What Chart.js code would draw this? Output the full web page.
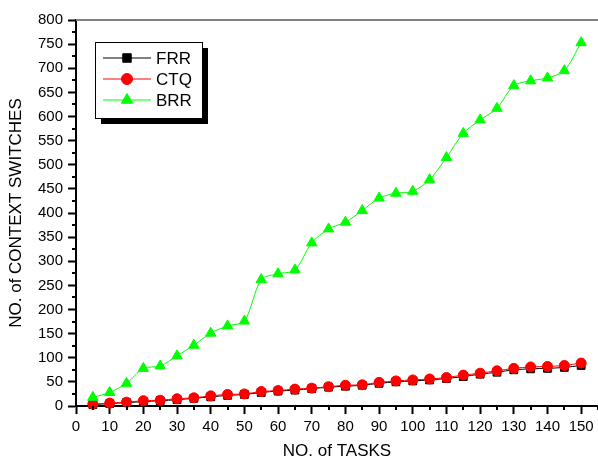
<!DOCTYPE html>
<html>
<head>
<meta charset="utf-8">
<script src="https://cdn.jsdelivr.net/npm/chart.js@4/dist/chart.umd.min.js"></script>
<style>
  html, body { margin: 0; padding: 0; background: #fff; }
  #wrap { width: 598px; height: 463px; }
</style>
</head>
<body>
<div id="wrap"><canvas id="ctxChart" width="598" height="463"></canvas></div>
<script>
// Données
const tasks = [5, 10, 15, 20, 25, 30, 35, 40, 45, 50, 55, 60, 65, 70, 75,
               80, 85, 90, 95, 100, 105, 110, 115, 120, 125, 130, 135, 140, 145, 150];
const frrValues = [3, 5, 7, 9, 11, 13, 16, 19, 22, 24, 28, 31, 33, 36, 39,
                   41, 43, 47, 50, 52, 54, 57, 61, 66, 70, 75, 77, 78, 80, 84];
const ctqValues = [4, 6, 8, 11, 12, 15, 17, 21, 24, 25, 30, 32, 35, 37, 40,
                   43, 44, 49, 52, 54, 56, 59, 64, 68, 73, 78, 81, 82, 84, 89];
const brrValues = [18, 28, 47, 78, 83, 104, 126, 151, 166, 176, 262, 274, 282, 338, 367,
                   381, 405, 431, 441, 445, 469, 515, 565, 593, 617, 664, 674, 680, 695, 753];
const seriesNames = ['FRR', 'CTQ', 'BRR'];

const fontFamily = "'Liberation Sans', Arial, sans-serif";

function toPoints(values) {
    return values.map((v, i) => ({ x: tasks[i], y: v }));
}

// Petits traits (graduations mineures) + bordure du haut
const axesExtras = {
    id: 'axesExtras',
    afterDraw(chart) {
        const ctx = chart.ctx;
        const area = chart.chartArea;
        const xs = chart.scales.x;
        const ys = chart.scales.y;
        ctx.save();
        ctx.strokeStyle = '#000';
        ctx.lineWidth = 2;
        xs.ticks.forEach(t => {
            if (t.value % 10 !== 0) {
                const px = Math.round(xs.getPixelForValue(t.value));
                ctx.beginPath();
                ctx.moveTo(px, area.bottom);
                ctx.lineTo(px, area.bottom + 4);
                ctx.stroke();
            }
        });
        ys.ticks.forEach(t => {
            if (t.value % 50 !== 0) {
                const py = Math.round(ys.getPixelForValue(t.value));
                ctx.beginPath();
                ctx.moveTo(area.left - 4, py);
                ctx.lineTo(area.left, py);
                ctx.stroke();
            }
        });
        // bordure grise en haut
        ctx.strokeStyle = '#808080';
        ctx.lineWidth = 2;
        ctx.beginPath();
        ctx.moveTo(area.left, area.top);
        ctx.lineTo(area.right, area.top);
        ctx.stroke();
        ctx.restore();
    }
};

// Légende encadrée avec ombre
const boxLegend = {
    id: 'boxLegend',
    afterDraw(chart) {
        const ctx = chart.ctx;
        const bx = 95, by = 42, bw = 107, bh = 76;
        ctx.save();
        ctx.fillStyle = '#000';
        ctx.fillRect(bx + 6, by + 6, bw, bh);
        ctx.fillStyle = '#fff';
        ctx.fillRect(bx, by, bw, bh);
        ctx.strokeStyle = '#000';
        ctx.lineWidth = 1;
        ctx.strokeRect(bx + 0.5, by + 0.5, bw, bh);
        const rows = [58, 79, 100];
        seriesNames.forEach((name, i) => {
            const ds = chart.data.datasets.find(d => d.label === name);
            const y = rows[i];
            ctx.strokeStyle = ds.borderColor;
            ctx.lineWidth = 1;
            ctx.beginPath();
            ctx.moveTo(103, y);
            ctx.lineTo(151, y);
            ctx.stroke();
            ctx.fillStyle = ds.pointBackgroundColor;
            ctx.strokeStyle = ds.pointBorderColor;
            Chart.helpers.drawPoint(ctx, {
                pointStyle: ds.pointStyle,
                radius: ds.pointRadius + 0.5,
                borderWidth: 1,
                rotation: 0
            }, 127, y);
            ctx.fillStyle = '#000';
            ctx.font = '17px ' + fontFamily;
            ctx.textBaseline = 'middle';
            ctx.textAlign = 'left';
            ctx.fillText(name, 156, y + 1);
        });
        ctx.restore();
    }
};

new Chart(document.getElementById('ctxChart'), {
    type: 'line',
    data: {
        datasets: [
            {
                label: 'FRR',
                data: toPoints(frrValues),
                borderColor: '#000000',
                backgroundColor: '#000000',
                pointBackgroundColor: '#000000',
                pointBorderColor: '#000000',
                pointStyle: 'rect',
                pointRadius: 5.5,
                borderWidth: 1,
                tension: 0.3,
                order: 3
            },
            {
                label: 'CTQ',
                data: toPoints(ctqValues),
                borderColor: '#ff0000',
                backgroundColor: '#ff0000',
                pointBackgroundColor: '#ff0000',
                pointBorderColor: '#ff0000',
                pointStyle: 'circle',
                pointRadius: 5,
                borderWidth: 1,
                tension: 0.3,
                order: 2
            },
            {
                label: 'BRR',
                data: toPoints(brrValues),
                borderColor: '#00ff00',
                backgroundColor: '#00ff00',
                pointBackgroundColor: '#00ff00',
                pointBorderColor: '#00ff00',
                pointStyle: 'triangle',
                pointRadius: 6,
                borderWidth: 1,
                tension: 0.3,
                order: 1
            }
        ]
    },
    options: {
        responsive: false,
        animation: false,
        clip: false,
        layout: {
            autoPadding: false,
            padding: { top: 20, right: 0, left: 0, bottom: 0 }
        },
        plugins: {
            legend: { display: false },
            tooltip: { enabled: false }
        },
        scales: {
            x: {
                type: 'linear',
                min: 0,
                max: 155,
                afterFit(scale) {
                    scale.height = 57;
                    scale.paddingRight = 0;
                    scale.paddingLeft = 0;
                },
                border: { color: '#000', width: 2 },
                grid: {
                    drawOnChartArea: false,
                    drawTicks: true,
                    tickLength: 8,
                    tickWidth: 2,
                    tickColor: ctx => (ctx.tick && ctx.tick.value % 10 === 0) ? '#000' : 'rgba(0,0,0,0)'
                },
                ticks: {
                    stepSize: 5,
                    autoSkip: false,
                    maxRotation: 0,
                    padding: 4,
                    color: '#000',
                    font: { family: fontFamily, size: 15 },
                    callback: v => (v % 10 === 0 ? String(v) : '')
                },
                title: {
                    display: true,
                    text: 'NO. of TASKS',
                    color: '#000',
                    font: { family: fontFamily, size: 17 },
                    padding: { top: 0, bottom: 1 }
                }
            },
            y: {
                type: 'linear',
                min: 0,
                max: 800,
                afterFit(scale) {
                    scale.width = 76;
                    scale.paddingTop = 0;
                    scale.paddingBottom = 0;
                },
                border: { color: '#000', width: 2 },
                grid: {
                    drawOnChartArea: false,
                    drawTicks: true,
                    tickLength: 8,
                    tickWidth: 2,
                    tickColor: ctx => (ctx.tick && ctx.tick.value % 50 === 0) ? '#000' : 'rgba(0,0,0,0)'
                },
                ticks: {
                    stepSize: 25,
                    autoSkip: false,
                    padding: 5,
                    color: '#000',
                    font: { family: fontFamily, size: 15 },
                    callback: v => (v % 50 === 0 ? String(v) : '')
                },
                title: {
                    display: true,
                    text: 'NO. of CONTEXT SWITCHES',
                    color: '#000',
                    font: { family: fontFamily, size: 17 },
                    padding: { top: 6, bottom: 0 }
                }
            }
        }
    },
    plugins: [axesExtras, boxLegend]
});
</script>
</body>
</html>
